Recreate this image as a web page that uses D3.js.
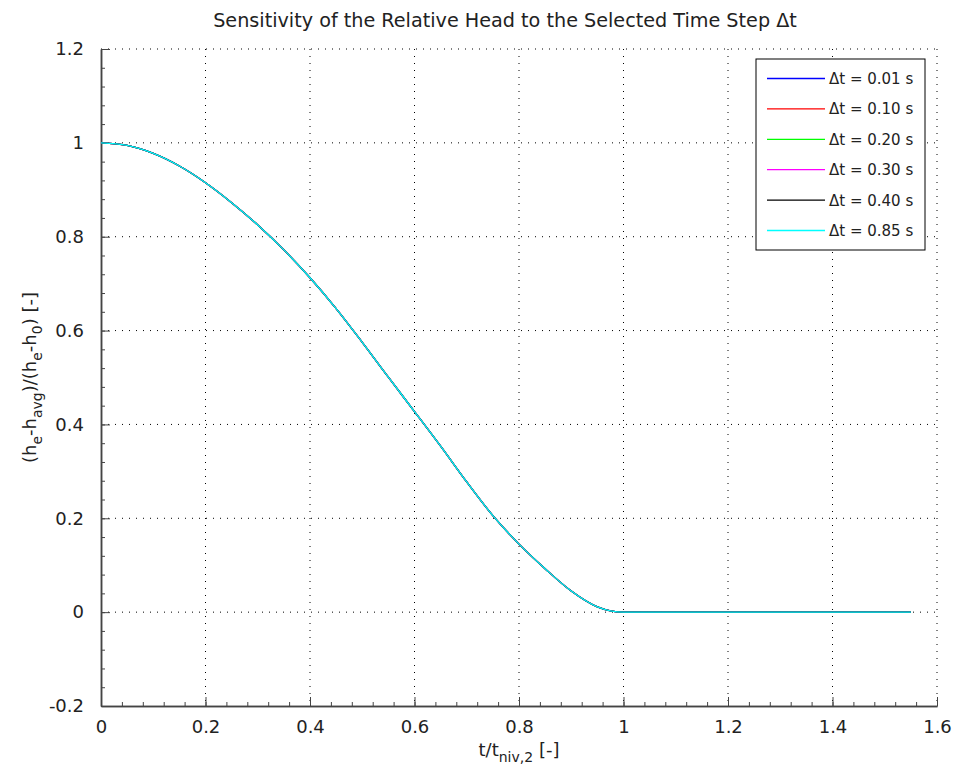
<!DOCTYPE html>
<html>
<head>
<meta charset="utf-8">
<script src="https://cdn.jsdelivr.net/npm/d3@7"></script>
<style>
  body { margin: 0; background: #fff; }
  text { font-family: "DejaVu Sans", sans-serif; fill: #222; }
</style>
</head>
<body>
<div id="chart"></div>
<script>
// time, normalised by t_niv,2
var tValues = [0, 0.05, 0.10, 0.15, 0.20, 0.25, 0.30, 0.35, 0.40, 0.45, 0.50, 0.55, 0.60,
  0.65, 0.70, 0.75, 0.80, 0.85, 0.90, 0.95, 1.00, 1.10, 1.20, 1.30, 1.40, 1.55];

// relative head (all time steps lie on top of each other)
var headValues = [1.000, 0.9944, 0.9775, 0.9506, 0.915, 0.8725, 0.825, 0.7719, 0.7125, 0.6469, 0.575, 0.5006, 0.4275,
  0.3538, 0.2775, 0.2056, 0.145, 0.0925, 0.045, 0.0113, 0.000, 0.000, 0.000, 0.000, 0.000, 0.000];

var seriesLabels = ["\u0394t = 0.01 s", "\u0394t = 0.10 s", "\u0394t = 0.20 s",
  "\u0394t = 0.30 s", "\u0394t = 0.40 s", "\u0394t = 0.85 s"];
var seriesColors = ["#0000ff", "#ff0000", "#00ff00", "#ff00ff", "#000000", "#00ffff"];

var xTicks = [0, 0.2, 0.4, 0.6, 0.8, 1, 1.2, 1.4, 1.6];
var xTickLabels = ["0", "0.2", "0.4", "0.6", "0.8", "1", "1.2", "1.4", "1.6"];
var yTicks = [-0.2, 0, 0.2, 0.4, 0.6, 0.8, 1, 1.2];
var yTickLabels = ["-0.2", "0", "0.2", "0.4", "0.6", "0.8", "1", "1.2"];

var margin = {top: 49, right: 18, bottom: 71, left: 101},
    width = 955 - margin.left - margin.right,
    height = 777 - margin.top - margin.bottom;

var svg = d3.select("#chart")
  .append("svg")
    .attr("width", 955)
    .attr("height", 777)
  .append("g")
    .attr("transform", "translate(" + margin.left + "," + margin.top + ")");

var x = d3.scaleLinear().domain([0, 1.6]).range([0, width]);
var y = d3.scaleLinear().domain([-0.2, 1.2]).range([height, 0]);

// dotted grid
svg.append("g")
  .selectAll("line")
  .data(xTicks.slice(1))
  .enter().append("line")
    .attr("x1", function(d) { return x(d); })
    .attr("x2", function(d) { return x(d); })
    .attr("y1", 0).attr("y2", height)
    .attr("stroke", "#000").attr("stroke-dasharray", "1,6");
svg.append("g")
  .selectAll("line")
  .data(yTicks.slice(1))
  .enter().append("line")
    .attr("y1", function(d) { return y(d); })
    .attr("y2", function(d) { return y(d); })
    .attr("x1", 0).attr("x2", width)
    .attr("stroke", "#000").attr("stroke-dasharray", "1,6");

// minor ticks every 0.04
var minor = d3.range(0, 41).map(function(i) { return i * 0.04; });
var yMinor = d3.range(0, 36).map(function(i) { return -0.2 + i * 0.04; });

svg.append("g")
  .attr("transform", "translate(0," + height + ")")
  .call(d3.axisBottom(x).tickValues(xTicks)
    .tickFormat(function(d, i) { return xTickLabels[i]; })
    .tickSizeInner(-9).tickSizeOuter(0).tickPadding(14));
svg.append("g")
  .attr("transform", "translate(0," + height + ")")
  .call(d3.axisBottom(x).tickValues(minor).tickFormat("").tickSizeInner(-4).tickSizeOuter(0));

svg.append("g")
  .call(d3.axisLeft(y).tickValues(yTicks)
    .tickFormat(function(d, i) { return yTickLabels[i]; })
    .tickSizeInner(-9).tickSizeOuter(0).tickPadding(17));
svg.append("g")
  .call(d3.axisLeft(y).tickValues(yMinor).tickFormat("").tickSizeInner(-4).tickSizeOuter(0));

svg.selectAll(".domain").attr("stroke", "#444").attr("stroke-width", 1.5);
svg.selectAll(".tick line").attr("stroke", "#444");
svg.selectAll(".tick text").style("font-size", "18px").attr("fill", "#222");

// curves, last one drawn on top
var line = d3.line()
  .x(function(d) { return x(d[0]); })
  .y(function(d) { return y(d[1]); })
  .curve(d3.curveMonotoneX);
var points = tValues.map(function(t, i) { return [t, headValues[i]]; });

seriesLabels.forEach(function(label, i) {
  svg.append("path")
    .datum(points)
    .attr("fill", "none")
    .attr("stroke", seriesColors[i])
    .attr("stroke-width", 1.3)
    .attr("d", line);
});

// legend
var legend = svg.append("g").attr("transform", "translate(" + (756 - margin.left) + "," + (59 - margin.top) + ")");
legend.append("rect")
  .attr("width", 169).attr("height", 191)
  .attr("fill", "#fff").attr("stroke", "#000").attr("stroke-width", 1);
seriesLabels.forEach(function(label, i) {
  var ly = 19.5 + i * 30.4;
  legend.append("line")
    .attr("x1", 11).attr("x2", 69)
    .attr("y1", ly).attr("y2", ly)
    .attr("stroke", seriesColors[i]).attr("stroke-width", 1.3);
  legend.append("text")
    .attr("x", 73).attr("y", ly + 5.5)
    .style("font-size", "15px")
    .text(label);
});

// title
svg.append("text")
  .attr("x", 505 - margin.left).attr("y", 27 - margin.top)
  .attr("text-anchor", "middle")
  .style("font-size", "19.2px")
  .text("Sensitivity of the Relative Head to the Selected Time Step \u0394t");

// x label
var xl = svg.append("text")
  .attr("x", width / 2).attr("y", height + 50)
  .attr("text-anchor", "middle")
  .style("font-size", "18px");
xl.append("tspan").text("t/t");
xl.append("tspan").attr("dy", 6).style("font-size", "14px").text("niv,2");
xl.append("tspan").attr("dy", -6).text(" [-]");

// y label
var yl = svg.append("text")
  .attr("transform", "translate(" + (36 - margin.left) + "," + (height / 2) + ") rotate(-90)")
  .attr("text-anchor", "middle")
  .style("font-size", "18px");
yl.append("tspan").text("(h");
yl.append("tspan").attr("dy", 6).style("font-size", "14px").text("e");
yl.append("tspan").attr("dy", -6).text("-h");
yl.append("tspan").attr("dy", 6).style("font-size", "14px").text("avg");
yl.append("tspan").attr("dy", -6).text(")/(h");
yl.append("tspan").attr("dy", 6).style("font-size", "14px").text("e");
yl.append("tspan").attr("dy", -6).text("-h");
yl.append("tspan").attr("dy", 6).style("font-size", "14px").text("0");
yl.append("tspan").attr("dy", -6).text(") [-]");
</script>
</body>
</html>
